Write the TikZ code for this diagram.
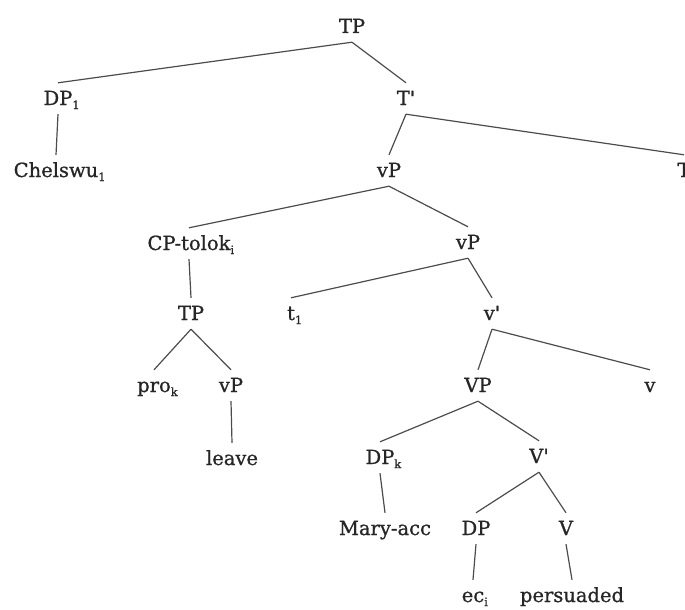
\documentclass[tikz,border=0pt]{standalone}
\usepackage{fontspec}
\setmainfont{DejaVu Serif}
\newfontfamily\treefont{DejaVu Serif}[FakeBold=0.9]
\newcommand\sbs[1]{\rlap{\raisebox{-0.4ex}{\fontsize{11.5}{12}\selectfont #1}}}
\begin{document}
\begin{tikzpicture}[x=1pt,y=-1pt,
  lbl/.style={anchor=base, font=\treefont\fontsize{19.5}{20}\selectfont, inner sep=0pt,
              text height=14pt, text depth=1pt, inner ysep=8pt, text=black!85},
  br/.style={line width=1.2pt, draw=black!70}]
\useasboundingbox (0,0) rectangle (685,610);
\node[lbl] (tp)    at (352,33)  {TP};
\node[lbl] (dp1)   at (58,105)  {DP\sbs{1}};
\node[lbl] (tbar)  at (406,105) {T'};
\node[lbl] (chel)  at (56,177)  {Chelswu\sbs{1}};
\node[lbl] (vp1)   at (389,177) {vP};
\node[lbl] (tt)    at (684,177) {T};
\node[lbl] (cp)    at (189,250) {CP-tolok\sbs{i}};
\node[lbl] (vp2)   at (468,249) {vP};
\node[lbl] (tp2)   at (191,320) {TP};
\node[lbl] (t1)    at (291,320) {t\sbs{1}};
\node[lbl] (vbar)  at (492,320) {v'};
\node[lbl] (pro)   at (154,392) {pro\sbs{k}};
\node[lbl] (vp3)   at (231,392) {vP};
\node[lbl] (VP)    at (478,392) {VP};
\node[lbl] (v)     at (650,392) {v};
\node[lbl] (leave) at (232,465) {leave};
\node[lbl] (dpk)   at (380,464) {DP\sbs{k}};
\node[lbl] (Vbar)  at (539,463) {V'};
\node[lbl] (mary)  at (385,535) {Mary-acc};
\node[lbl] (dp)    at (476,535) {DP};
\node[lbl] (V)     at (566,535) {V};
\node[lbl] (ec)    at (473,602) {ec\sbs{i}};
\node[lbl] (pers)  at (572,602) {persuaded};
\foreach \p/\c in {tp/dp1, tp/tbar, dp1/chel, tbar/vp1, tbar/tt, vp1/cp, vp1/vp2,
  cp/tp2, tp2/pro, tp2/vp3, vp3/leave, vp2/t1, vp2/vbar, vbar/VP, vbar/v,
  VP/dpk, VP/Vbar, dpk/mary, Vbar/dp, Vbar/V, dp/ec, V/pers}
  \draw[br] (\p.south) -- (\c.north);
\end{tikzpicture}
\end{document}
